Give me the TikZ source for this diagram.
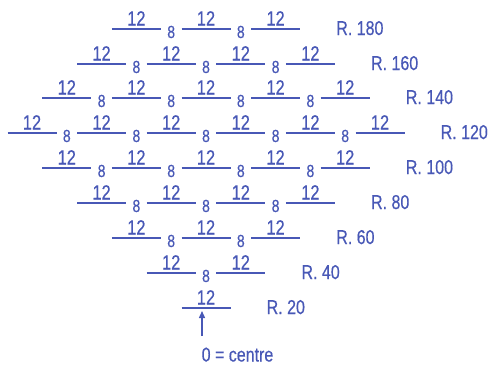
\documentclass[tikz,border=0pt]{standalone}
\usepackage{fontspec}
\setmainfont{Liberation Sans}
\newfontfamily\cond[FakeStretch=0.8,FakeBold=0.4]{Liberation Sans}
\usetikzlibrary{arrows.meta}
\definecolor{ink}{RGB}{72,88,182}
\begin{document}
\begin{tikzpicture}[x=1pt,y=-1pt,
  seg/.style={draw=ink, line width=1.4pt},
  twelve/.style={anchor=base, inner sep=0pt, text=ink, font=\cond\fontsize{20.5}{20.5}\selectfont},
  eight/.style={anchor=base, inner sep=0pt, text=ink, font=\cond\fontsize{17.5}{17.5}\selectfont},
  lab/.style={anchor=base west, inner sep=0pt, text=ink, font=\cond\fontsize{20}{20}\selectfont},
  arr/.style={draw=ink, line width=1.4pt, -{Triangle[width=6pt,length=7pt]}}]
\useasboundingbox (0,0) rectangle (491,365);
\foreach \n/\lab/\y in {1/20/308, 2/40/273, 3/60/238, 4/80/203, 5/100/168, 6/120/133, 5/140/98, 4/160/64, 3/180/29}{
  \foreach \i in {1,...,\n}{
    \pgfmathsetmacro\cx{206+(\i-(\n+1)/2)*69.6}
    \coordinate (sa-\lab-\i) at (\cx-24.5,\y);
    \coordinate (sb-\lab-\i) at (\cx+24.5,\y);
    \draw[seg] (sa-\lab-\i) -- (sb-\lab-\i);
    \node[twelve] (t-\lab-\i) at (\cx,\y-3.5) {12};
    \ifnum\i<\n \node[eight] (e-\lab-\i) at (\cx+34.8,\y+9) {8};\fi
  }
  \pgfmathsetmacro\rx{206+(\n-1)/2*69.6+24.5+36}
  \node[lab] (r-\lab) at (\rx,\y+6) {R. \lab};
}
\coordinate (a0) at (202,336);
\coordinate (a1) at (202,311);
\draw[arr] (a0) -- (a1);
\node[anchor=base, inner sep=0pt, text=ink, font=\cond\fontsize{20}{20}\selectfont] (c) at (237.5,361.5) {0 = centre};
\end{tikzpicture}
\end{document}
